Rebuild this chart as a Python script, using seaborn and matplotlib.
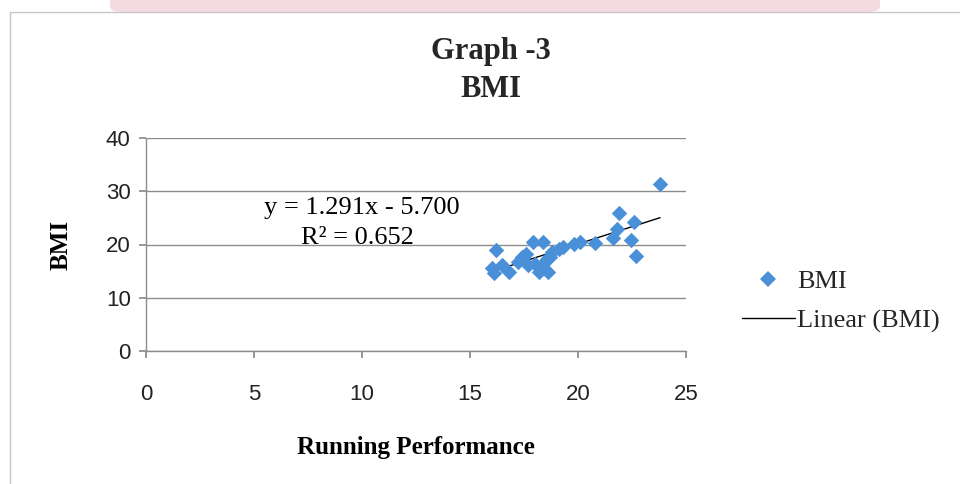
import matplotlib
matplotlib.use("Agg")
import matplotlib.pyplot as plt
from matplotlib.lines import Line2D
from matplotlib.patches import FancyBboxPatch
import seaborn as sns
import pandas as pd

# ---- data ----
running_perf = [16.0, 16.1, 16.2, 16.5, 16.8, 17.2, 17.4, 17.6, 17.7, 17.9,
                18.0, 18.2, 18.25, 18.4, 18.4, 18.55, 18.6, 18.7, 18.8, 19.1,
                19.3, 19.8, 20.1, 20.8, 21.6, 21.8, 21.9, 22.45, 22.6, 22.7, 23.8]
bmi = [15.6, 14.7, 19.0, 16.1, 14.8, 16.7, 17.7, 18.3, 16.1, 20.5,
       16.4, 14.8, 15.8, 20.5, 16.4, 17.3, 14.8, 17.7, 18.6, 19.2,
       19.5, 20.1, 20.5, 20.3, 21.2, 23.0, 25.9, 20.8, 24.2, 17.8, 31.3]
x_ticks = [0, 5, 10, 15, 20, 25]
y_ticks = [0, 10, 20, 30, 40]
title_lines = ["Graph -3", "BMI"]
equation_text = "y = 1.291x - 5.700"
r2_text = "R² = 0.652"

df = pd.DataFrame({"Running Performance": running_perf, "BMI": bmi})

sns.set_theme(style="white")
plt.rcParams["font.family"] = ["Liberation Serif", "DejaVu Serif"]

fig = plt.figure(figsize=(9.6, 4.84), dpi=100)
fig.patch.set_facecolor("white")

# faint banner and frame at top/left
banner = FancyBboxPatch((110 / 960, 1 - 12 / 484), 770 / 960, 20 / 484,
                        boxstyle="round,pad=0,rounding_size=0.012",
                        transform=fig.transFigure, facecolor="#f5dbe1",
                        edgecolor="none", zorder=0)
fig.patches.append(banner)
fig.add_artist(Line2D([10 / 960, 1], [1 - 12 / 484, 1 - 12 / 484],
                      transform=fig.transFigure, color="#c8c8c8", lw=1))
fig.add_artist(Line2D([10 / 960, 10 / 960], [0, 1 - 12 / 484],
                      transform=fig.transFigure, color="#c8c8c8", lw=1))

ax = fig.add_axes([146 / 960, 1 - 351 / 484, 540 / 960, 213 / 484])
ax.set_facecolor("none")

sns.scatterplot(data=df, x="Running Performance", y="BMI", marker="D",
                s=62, color="#4a90d9", edgecolor="#4a90d9", linewidth=0,
                ax=ax, zorder=3)
sns.regplot(data=df, x="Running Performance", y="BMI", scatter=False,
            ci=None, truncate=True, line_kws={"color": "black", "lw": 1.0},
            ax=ax)

ax.set_xlim(0, 25)
ax.set_ylim(0, 40)
ax.set_xticks(x_ticks)
ax.set_yticks(y_ticks)
ax.yaxis.grid(True, color="#8c8c8c", lw=1)
ax.set_axisbelow(True)
for s in ["top", "right"]:
    ax.spines[s].set_visible(False)
for s in ["left", "bottom"]:
    ax.spines[s].set_color("#8c8c8c")
    ax.spines[s].set_linewidth(1)
ax.tick_params(axis="both", which="both", direction="out", length=5,
               color="#8c8c8c", labelsize=16, labelcolor="#222222")
ax.tick_params(axis="x", pad=19, bottom=True)
ax.tick_params(axis="y", pad=6, left=True)
for lab in ax.get_xticklabels() + ax.get_yticklabels():
    lab.set_fontfamily(["Liberation Sans Narrow", "Liberation Sans", "DejaVu Sans"])

ax.set_xlabel("Running Performance", fontsize=18, fontweight="bold",
              labelpad=22, color="black")
ax.set_ylabel("BMI", fontsize=18, fontweight="bold", labelpad=24, color="black")

ax.text(10.0, 26.9, equation_text, fontsize=19, ha="center", va="center",
        color="black")
ax.text(9.8, 21.2, r2_text, fontsize=19, ha="center", va="center",
        color="black")

fig.text(0.511, 1 - 52 / 484, title_lines[0], fontsize=22, fontweight="bold",
         ha="center", va="center")
fig.text(0.511, 1 - 90 / 484, title_lines[1], fontsize=22, fontweight="bold",
         ha="center", va="center")

handles = [Line2D([], [], marker="D", linestyle="none", color="#4a90d9",
                  markersize=8, markeredgewidth=0),
           Line2D([], [], color="black", lw=1)]
fig.legend(handles, ["BMI", "Linear (BMI)"], loc="center left",
           bbox_to_anchor=(742 / 960, 1 - 301 / 484), frameon=False,
           fontsize=19, handlelength=2.0, handletextpad=0.1,
           labelspacing=0.6, borderaxespad=0, borderpad=0)

fig.savefig("out.png", dpi=100)
